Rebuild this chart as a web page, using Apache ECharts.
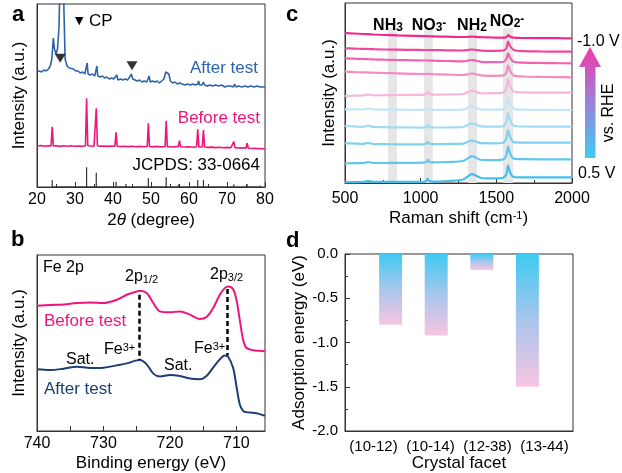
<!DOCTYPE html>
<html>
<head>
<meta charset="utf-8">
<script src="https://cdn.jsdelivr.net/npm/echarts@6/dist/echarts.min.js"></script>
<style>
  html, body { margin: 0; padding: 0; background: #fff; }
  #chart { width: 622px; height: 473px; }
</style>
</head>
<body>
<div id="chart"></div>
<script>
// ---- panel a : XRD (2theta, offset intensity) ----
var xrdAfter = [
  [20,115],[20.6,116],[21.2,115],[21.8,117],[22.4,116],[23,118],[23.5,121],[23.9,128],[24.3,149],[24.6,138],
  [25,133],[25.4,138],[25.8,160],[26.1,220],[26.4,262],[26.8,250],[27.1,175],[27.4,128],[27.9,121],[28.5,119],
  [29,117],[29.6,118],[30.2,116],[30.8,116],[31.4,114],[32,115],[32.6,113],[33,114],[33.2,124],[33.45,113],
  [34,112],[34.6,113],[35.2,111],[35.5,112],[35.75,121],[36,111],[36.6,110],[37.2,111],[37.8,109],[38.4,110],
  [39,108],[39.6,109],[40.2,108],[40.7,108],[41,112],[41.3,107],[42,108],[42.6,107],[43.2,108],[43.8,107],
  [44.4,110],[44.8,113],[45.2,108],[45.8,107],[46.4,106],[47,107],[47.6,105],[48.2,106],[48.9,105],[49.3,106],
  [49.5,111],[49.8,105],[50.4,106],[51,105],[51.6,106],[52.2,104],[52.8,106],[53.4,108],[53.9,115],[54.3,117],
  [54.7,113],[55.1,106],[55.7,104],[56.3,105],[56.9,103],[57.5,104],[58.2,103],[58.9,102],[59.6,103],[60.3,102],
  [61,103],[61.7,102],[62.3,103],[62.5,106],[62.8,102],[63.4,102],[63.8,105],[64.1,102],[64.8,101],[65.5,102],
  [66.2,101],[67,102],[67.8,101],[68.6,102],[69.4,100],[70.2,101],[71,101],[71.7,100],[72,103],[72.4,100],
  [73.1,101],[73.9,100],[74.7,101],[75.5,100],[76.3,101],[77.1,100],[77.9,101],[78.7,100],[79.4,100],[80,100]
];
var xrdBefore = [
  [20,41],[21,41.5],[22,40.8],[23,41.3],[23.7,41],[24,60.3],[24.3,41],[25,41.2],[26,40.6],[27,41.3],
  [28,40.8],[29,41.2],[30,40.7],[31,41],[32,40.8],[32.75,41.2],[33.05,88.7],[33.35,41.5],[34,41],[35,40.8],
  [35.3,41.3],[35.6,78.7],[35.9,41.2],[36.5,40.7],[37.5,41],[38.5,40.6],[39.5,41],[40.5,40.7],[40.8,54.7],[41.1,40.8],
  [42,40.5],[43,40.8],[44,40.4],[45,40.7],[46,40.3],[47,40.6],[48,40.2],[49,40.5],[49.3,63.7],[49.6,40.4],
  [50.5,40.2],[51.5,40.6],[52.5,40.1],[53.7,40.5],[54,66.3],[54.3,40.4],[55.5,40],[56.5,40.4],[57.2,40.6],[57.5,46.3],
  [57.8,40.3],[59,40],[60,40.3],[61,39.8],[62,40.2],[62.3,57.7],[62.6,40],[63.5,40.1],[63.8,57],[64.1,40],
  [65,39.6],[66,39.9],[67,39.4],[68,39.8],[69,39.3],[70,39.6],[71,39.2],[71.5,39.6],[71.8,45.3],[72.1,39.4],
  [73,39],[74,39.3],[75,38.9],[75.3,43.7],[75.6,38.8],[76.5,38.5],[77.5,38.8],[78.5,38.2],[79.3,38.4],[80,37.7]
];
// JCPDS 33-0664 reference sticks: [2theta, height]
var jcpds = [
  [24.0,7],[33.05,19.7],[35.6,14.3],[38.5,1.5],[40.8,5.3],[43.4,3],[45.3,1.5],[49.3,8.7],[54.0,9.7],[57.0,2],
  [57.5,3],[62.3,7],[63.8,7],[66.0,1.5],[69.5,2],[71.8,2.7],[75.3,2.7],[77.6,2],[78.8,1.5]
];
var cpMarks = [[26.1,128.7],[45.0,121.3]];

// ---- panel c : in-situ Raman ----
var ramanShift = [500,560,620,652,690,760,850,950,1020,1038,1046,1054,1080,1180,1280,1320,1340,1360,1400,1480,1540,1565,1578,1590,1615,1680,1800,1900,2000];
var raman1  = [150,149.5,149,148.8,148.5,148,147.6,147.2,146.9,146.8,146.8,146.7,146.6,146.3,146,146.2,146.4,146.1,145.8,145.5,145.3,145.8,148,146.5,145.3,145,144.9,144.8,144.7];
var raman2  = [134.7,134.4,134.1,134,133.8,133.5,133.3,133.1,133,133,133,133,132.9,132.7,132.5,133.2,133.5,133.1,132.4,132.2,132.3,134.5,141.3,137,133,131.8,131.5,131.4,131.3];
var raman3  = [124.7,124.3,124,123.8,123.6,123.3,123,122.7,122.5,122.5,122.6,122.4,122.3,122,121.7,122.6,123,122.5,121.2,120.8,121,123.5,129.7,125.5,121.2,120.3,120,119.8,119.7];
var raman4  = [111.3,110.9,110.6,110.5,110.3,110,109.6,109.2,109,109,109.3,109,108.8,108.4,108,109,109.6,109,107.6,107.2,107.3,110,117.3,112.5,107.4,106.5,106.1,105.9,105.7];
var raman5  = [87,87.3,87.5,88.3,87.7,87.8,88,88.1,88.2,89.3,91.3,89.2,88.4,88.6,89,91.5,92.5,91.5,89.6,89.8,90.2,94,103.7,98,91.5,90.6,90.4,90.3,90.3];
var raman6  = [73.7,73.6,73.5,74.6,73.5,73.4,73.3,73.2,73.1,74,75.9,74,73.2,73.2,73.4,75.7,76.5,75.6,73.6,73.3,73.6,77,85.7,80,74.3,73.3,73.1,73,73];
var raman7  = [57,56.6,56.2,57.3,56,55.8,55.6,55.5,55.4,56.4,58.3,56.3,55.5,55.6,56,58.7,59.7,58.8,56.6,56.3,56.6,60.5,69.7,63.5,57.3,56.5,56.4,56.3,56.3];
var raman8  = [39.7,39.4,39.1,40.2,38.9,38.8,38.7,38.7,38.7,39.6,41.5,39.5,38.8,39,39.4,41.8,42.6,41.8,39.8,39.7,40,44,53,46.5,40.8,40.4,40.3,40.3,40.3];
var raman9  = [19.7,19.8,19.9,21,20,20,20.1,20.2,20.3,21.5,23.5,21.4,20.6,21,22,25.5,26.8,25.8,23,22.8,23.3,27.3,36.3,30,24.3,23.8,23.7,23.7,23.7];
var raman10 = [0.8,0.9,1,2.2,1.1,1.1,1.1,1.1,1.2,2.2,4.3,2.2,1.3,2,3.5,7.5,8.8,7.8,5,4.6,5,8.5,17.3,11,6,5.6,5.6,5.7,5.7];
var ramanSets = [raman1,raman2,raman3,raman4,raman5,raman6,raman7,raman8,raman9,raman10];
var ramanColors = ['#ef2a8d','#f0479b','#f263ab','#f48bc1','#f6b8d8','#c2e6f6','#a1dbf3','#80d0f0','#62c7ee','#44bfec'];
var bands = [[784,843],[1022,1080],[1313,1372],[1544,1611]];

// ---- panel b : XPS Fe 2p ----
var bindingEnergy = [740,738,736,734,732,730,728,726.5,725,724.5,723.5,722.5,721.5,720,718.5,717,715.5,714.5,713.5,712.5,711.75,711.25,710.5,710,709.5,709,708.5,707.5,706.5,705.7];
var xpsBefore = [126,126.7,127.3,128.7,129.3,128.7,132,137,140.3,141,138.7,128.7,120.3,119.3,120.3,117,112.7,114.7,123.7,137,143.7,145.3,142.7,132,112,92,83.7,81.3,80.7,80.3];
var xpsAfter  = [62,61.3,62.7,64.7,63.3,63.7,66,68,71,71.3,67,57.7,54.7,56.3,55.3,52.7,52,55.3,63.7,72,76,74.7,63.7,45.3,27,20.3,19,18.3,17,15.3];
var dashLines = [[724.65,137,71.3],[711.4,142.7,76]];

// ---- panel d : adsorption energy ----
var facets = ['(10-12)','(10-14)','(12-38)','(13-44)'];
var adsorption = [-0.8,-0.92,-0.18,-1.5];

var FONT = '"Liberation Sans", Arial, sans-serif';
var PINK = '#f0147b', BLUE = '#2e64a7', NAVY = '#1b3f72', AX = '#333';

function zip(xs, ys) { return xs.map(function (x, i) { return [x, ys[i]]; }); }

function xBase(grid, extra) {
  var o = {
    gridIndex: grid, type: 'value',
    axisLine: { onZero: false, lineStyle: { color: AX, width: 1 } },
    axisTick: { inside: true, length: 5, lineStyle: { color: AX } },
    minorTick: { show: true, splitNumber: 2, length: 3, lineStyle: { color: AX } },
    splitLine: { show: false },
    axisLabel: { fontSize: 16, color: '#000', fontFamily: FONT, margin: 5,
      formatter: function (v) { return String(v); } },
    nameLocation: 'middle',
    nameTextStyle: { fontSize: 17, color: '#000', fontFamily: FONT }
  };
  for (var k in extra) o[k] = extra[k];
  return o;
}
function yHidden(grid, max, gap) {
  return {
    gridIndex: grid, type: 'value', min: 0, max: max,
    axisLine: { show: true, lineStyle: { color: AX } },
    axisTick: { show: false }, axisLabel: { show: false }, splitLine: { show: false },
    name: 'Intensity (a.u.)', nameLocation: 'middle', nameGap: gap,
    nameTextStyle: { fontSize: 17, color: '#000', fontFamily: FONT }
  };
}

// sticks for reference pattern
var stickData = [];
jcpds.forEach(function (s) { stickData.push([s[0], 0], [s[0], s[1]], [s[0], 0]); });

var series = [
  { type: 'line', xAxisIndex: 0, yAxisIndex: 0, data: xrdAfter, symbol: 'none',
    lineStyle: { color: BLUE, width: 1.6 }, z: 3 },
  { type: 'line', xAxisIndex: 0, yAxisIndex: 0, data: xrdBefore, symbol: 'none',
    lineStyle: { color: PINK, width: 1.6 }, z: 3 },
  { type: 'line', xAxisIndex: 0, yAxisIndex: 0, data: stickData, symbol: 'none',
    lineStyle: { color: '#333', width: 1.2 }, z: 3 },
  { type: 'scatter', xAxisIndex: 0, yAxisIndex: 0, data: cpMarks, symbol: 'triangle',
    symbolRotate: 180, symbolSize: [11, 9], itemStyle: { color: '#000' }, z: 4 },
  // grey bands behind the Raman curves
  { type: 'line', xAxisIndex: 1, yAxisIndex: 1, data: [[500, 0]], symbol: 'none',
    lineStyle: { opacity: 0 }, z: 1,
    markArea: { silent: true, itemStyle: { color: '#e6e6e6' },
      data: bands.map(function (b) { return [{ xAxis: b[0], yAxis: 0 }, { xAxis: b[1], yAxis: 155 }]; }) } }
];
ramanSets.forEach(function (set, i) {
  series.push({ type: 'line', xAxisIndex: 1, yAxisIndex: 1, data: zip(ramanShift, set),
    symbol: 'none', smooth: 0.3, lineStyle: { color: ramanColors[i], width: 2.2 }, z: 3 });
});
series.push(
  { type: 'line', xAxisIndex: 2, yAxisIndex: 2, data: zip(bindingEnergy, xpsBefore), symbol: 'none',
    smooth: 0.35, lineStyle: { color: PINK, width: 2 }, z: 3 },
  { type: 'line', xAxisIndex: 2, yAxisIndex: 2, data: zip(bindingEnergy, xpsAfter), symbol: 'none',
    smooth: 0.35, lineStyle: { color: NAVY, width: 2 }, z: 3,
    markLine: { silent: true, symbol: 'none', label: { show: false },
      lineStyle: { color: '#000', width: 2.5, type: [5, 3] },
      data: dashLines.map(function (d) { return [{ coord: [d[0], d[1]] }, { coord: [d[0], d[2]] }]; }) } },
  { type: 'bar', xAxisIndex: 3, yAxisIndex: 3, barWidth: 23,
    data: adsorption.map(function (v, i) { return [i + 1, v]; }),
    itemStyle: { color: new echarts.graphic.LinearGradient(0, 0, 0, 1, [
      { offset: 0, color: '#3fcaf2' }, { offset: 0.5, color: '#a9c6ec' }, { offset: 1, color: '#f8c5e2' }]) } }
);

function txt(x, y, text, o) {
  o = o || {};
  return {
    type: 'text', x: x, y: y, z: 10, rotation: o.rot || 0,
    style: { text: text, fill: o.color || '#000', fontFamily: o.family || FONT,
      fontSize: o.size || 16, fontWeight: o.weight || 'normal',
      align: o.align || 'left', verticalAlign: 'middle', rich: o.rich }
  };
}
var subRich = { s: { fontSize: 11, verticalAlign: 'bottom', fontFamily: FONT, fill: '#000' },
                u: { fontSize: 11, verticalAlign: 'top', fontFamily: FONT, fill: '#000' } };
var boldRich = { s: { fontSize: 12, fontWeight: 'bold', verticalAlign: 'bottom', fontFamily: FONT },
                 u: { fontSize: 12, fontWeight: 'bold', verticalAlign: 'top', fontFamily: FONT } };

var graphics = [
  // panel letters
  txt(12, 15, 'a', { size: 22, weight: 'bold' }),
  txt(286, 15, 'c', { size: 22, weight: 'bold' }),
  txt(11, 240, 'b', { size: 22, weight: 'bold' }),
  txt(286, 241, 'd', { size: 22, weight: 'bold' }),
  // panel a
  txt(75, 21, '\u25BC', { size: 11, family: 'DejaVu Sans' }),
  txt(89, 21, 'CP', { size: 17 }),
  txt(258, 68, 'After test', { size: 17, align: 'right', color: BLUE }),
  txt(260, 118, 'Before test', { size: 17, align: 'right', color: PINK }),
  txt(260, 165, 'JCPDS: 33-0664', { size: 17, align: 'right' }),
  // panel c
  txt(388, 26, 'NH{s|3}', { size: 16, weight: 'bold', align: 'center', rich: boldRich }),
  txt(429, 26, 'NO{s|3}{u|-}', { size: 16, weight: 'bold', align: 'center', rich: boldRich }),
  txt(472, 26, 'NH{s|2}', { size: 16, weight: 'bold', align: 'center', rich: boldRich }),
  txt(507, 22, 'NO{s|2}{u|-}', { size: 16, weight: 'bold', align: 'center', rich: boldRich }),
  txt(577, 42, '-1.0 V', { size: 16 }),
  txt(578, 174, '0.5 V', { size: 16 }),
  txt(609, 113, 'vs. RHE', { size: 16, align: 'center', rot: Math.PI / 2 }),
  { type: 'polygon', z: 10,
    shape: { points: [[590, 47], [601, 67], [595.5, 67], [595.5, 158], [585, 158], [585, 67], [579, 67]] },
    style: { fill: new echarts.graphic.LinearGradient(0, 0, 0, 1, [
      { offset: 0, color: '#ee3aa8' }, { offset: 0.5, color: '#9a84d6' }, { offset: 1, color: '#3fcbf2' }]) } },
  // panel b
  txt(43, 268, 'Fe 2p', { size: 16 }),
  txt(125, 277, '2p{s|1/2}', { size: 16, rich: subRich }),
  txt(210, 275, '2p{s|3/2}', { size: 16, rich: subRich }),
  txt(44, 321, 'Before test', { size: 17, color: PINK }),
  txt(104, 350, 'Fe{u|3+}', { size: 16, rich: subRich }),
  txt(194, 349, 'Fe{u|3+}', { size: 16, rich: subRich }),
  txt(66, 360, 'Sat.', { size: 16 }),
  txt(164, 366, 'Sat.', { size: 16 }),
  txt(44, 389, 'After test', { size: 17, color: NAVY })
];

var chart = echarts.init(document.getElementById('chart'), null, { renderer: 'canvas' });
chart.setOption({
  animation: false,
  backgroundColor: '#fff',
  textStyle: { fontFamily: FONT },
  grid: [
    { left: 37, top: 4, width: 228, height: 183, show: true, borderColor: AX, borderWidth: 1 },
    { left: 345, top: 3, width: 227, height: 180, show: true, borderColor: AX, borderWidth: 1 },
    { left: 37, top: 255, width: 228, height: 177, show: true, borderColor: AX, borderWidth: 1 },
    { left: 345, top: 254, width: 228, height: 177, show: true, borderColor: AX, borderWidth: 1 }
  ],
  xAxis: [
    xBase(0, { min: 20, max: 80, interval: 10, name: '2{i|\u03B8} (degree)', nameGap: 25,
      nameTextStyle: { fontSize: 17, color: '#000', fontFamily: FONT,
        rich: { i: { fontStyle: 'italic', fontSize: 17, fontFamily: FONT } } } }),
    xBase(1, { min: 500, max: 2000, interval: 500, name: 'Raman shift (cm{u|-1})', nameGap: 27,
      axisLabel: { fontSize: 16, color: '#000', fontFamily: FONT, margin: 8,
        formatter: function (v) { return String(v); } },
      nameTextStyle: { fontSize: 17, color: '#000', fontFamily: FONT,
        rich: { u: { fontSize: 11, verticalAlign: 'top', fontFamily: FONT } } } }),
    xBase(2, { min: 705.7, max: 740, inverse: true, name: 'Binding energy (eV)', nameGap: 24,
      minorTick: { show: false },
      axisTick: { inside: true, length: 5, lineStyle: { color: AX }, customValues: [710, 715, 720, 725, 730, 735, 740] },
      axisLabel: { fontSize: 16, color: '#000', fontFamily: FONT, margin: 5, customValues: [710, 720, 730, 740] } }),
    { gridIndex: 3, type: 'value', min: 0, max: 5, show: false },
    { gridIndex: 3, type: 'category', data: facets, boundaryGap: true, position: 'bottom',
      axisLine: { onZero: false, lineStyle: { color: AX } }, axisTick: { show: false },
      axisLabel: { fontSize: 15, color: '#000', fontFamily: FONT, margin: 8, interval: 0 },
      name: 'Crystal facet', nameLocation: 'middle', nameGap: 24,
      nameTextStyle: { fontSize: 17, color: '#000', fontFamily: FONT } }
  ],
  yAxis: [
    yHidden(0, 183, 9),
    yHidden(1, 180, 7),
    yHidden(2, 177, 9),
    { gridIndex: 3, type: 'value', min: -2, max: 0, interval: 0.5,
      axisLine: { show: true, lineStyle: { color: AX } },
      axisTick: { inside: true, length: 5, lineStyle: { color: AX } },
      minorTick: { show: true, splitNumber: 2, length: 3, lineStyle: { color: AX } },
      splitLine: { show: false },
      axisLabel: { fontSize: 15, color: '#000', fontFamily: FONT, margin: 7,
        formatter: function (v) { return v.toFixed(1); } },
      name: 'Adsorption energy (eV)', nameLocation: 'middle', nameGap: 30,
      nameTextStyle: { fontSize: 17, color: '#000', fontFamily: FONT } }
  ],
  series: series,
  graphic: graphics
});
</script>
</body>
</html>
